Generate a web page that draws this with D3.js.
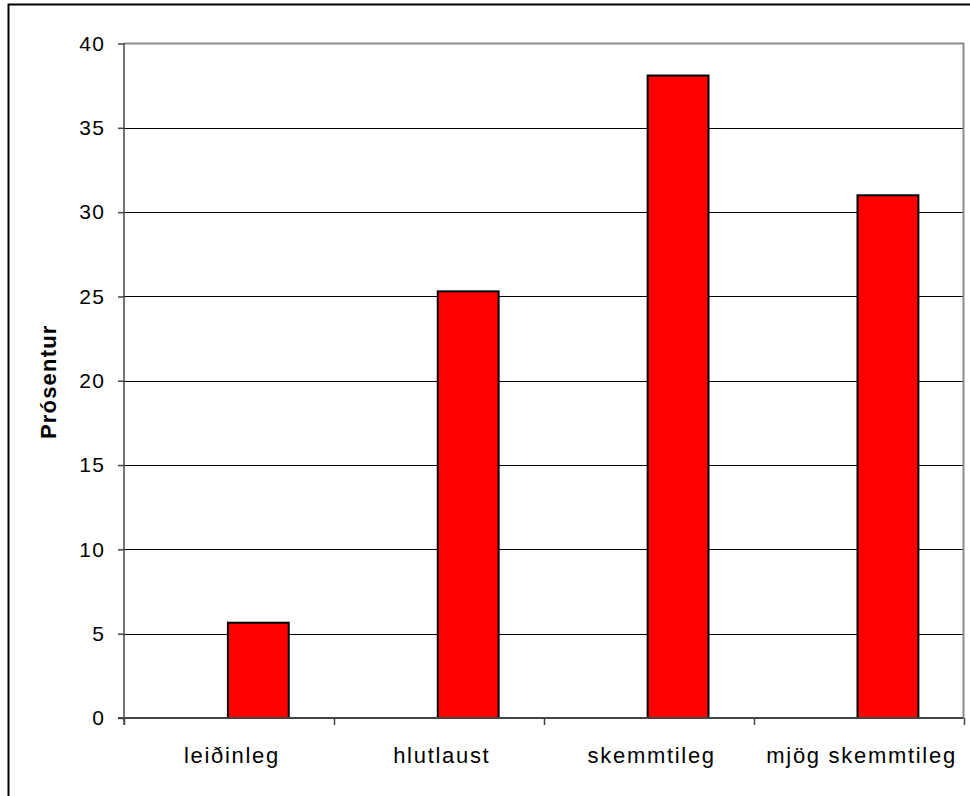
<!DOCTYPE html>
<html>
<head>
<meta charset="utf-8">
<script src="https://cdn.jsdelivr.net/npm/d3@7"></script>
<style>
  html, body { margin: 0; padding: 0; background: #fff; }
  svg { display: block; }
  text { font-family: "Liberation Sans", Arial, sans-serif; fill: #000; }
</style>
</head>
<body>
<svg id="chart" width="970" height="796"></svg>
<script>
// Chart data
const categories = ["leiðinleg", "hlutlaust", "skemmtileg", "mjög skemmtileg"];
const values = [5.65, 25.3, 38.1, 31.0];
const yTicks = [0, 5, 10, 15, 20, 25, 30, 35, 40];
const yLabel = "Prósentur";

const svg = d3.select("#chart");

// Outer frame (runs off the right and bottom edges)
svg.append("rect")
  .attr("x", 8.5).attr("y", 4.5)
  .attr("width", 980).attr("height", 800)
  .attr("fill", "#fff").attr("stroke", "#000").attr("stroke-width", 2);

const plot = { left: 124, right: 963.5, top: 43.5, bottom: 718 };

const x = d3.scaleBand()
  .domain(categories)
  .range([plot.left, plot.right])
  .paddingInner(0).paddingOuter(0);

const y = d3.scaleLinear()
  .domain([0, 40])
  .range([plot.bottom, plot.top]);

// Horizontal gridlines
svg.append("g")
  .selectAll("line")
  .data(yTicks.filter(t => t > 0 && t < 40))
  .join("line")
  .attr("x1", plot.left).attr("x2", plot.right)
  .attr("y1", d => Math.round(y(d)) + 0.5).attr("y2", d => Math.round(y(d)) + 0.5)
  .attr("stroke", "#000").attr("stroke-width", 1);

// Plot area top and right border
svg.append("path")
  .attr("d", `M${plot.left},${plot.top}H${plot.right}V${plot.bottom}`)
  .attr("fill", "none").attr("stroke", "#8c8c8c").attr("stroke-width", 2);

// Bars sit in the right half of each category band
const bw = x.bandwidth();
const barW = bw * 0.29;
svg.append("g")
  .selectAll("rect")
  .data(values)
  .join("rect")
  .attr("x", (d, i) => x(categories[i]) + bw * 0.495)
  .attr("y", d => y(d))
  .attr("width", barW)
  .attr("height", d => y(0) - y(d))
  .attr("fill", "#ff0000")
  .attr("stroke", "#000").attr("stroke-width", 2);

// Y axis
const yAxis = d3.axisLeft(y).tickValues(yTicks).tickSize(6).tickPadding(12.5).tickFormat(d3.format("d"));
const gy = svg.append("g").attr("transform", `translate(${plot.left},0)`).call(yAxis);
gy.attr("font-size", 21).attr("font-family", "Liberation Sans, Arial, sans-serif");
gy.select(".domain").attr("stroke", "#444").attr("stroke-width", 1.5).attr("d", `M0,${plot.top}V${plot.bottom + 7}`);
gy.selectAll(".tick line").attr("stroke", "#444").attr("stroke-width", 1.5);
gy.selectAll(".tick text").attr("fill", "#000").attr("letter-spacing", 1.5);

// X axis baseline with ticks at category boundaries
const gx = svg.append("g");
gx.append("line")
  .attr("x1", plot.left - 6).attr("x2", plot.right)
  .attr("y1", plot.bottom).attr("y2", plot.bottom)
  .attr("stroke", "#444").attr("stroke-width", 2);
const bounds = categories.map(c => x(c)).concat([plot.right]);
gx.selectAll("line.tk")
  .data(bounds)
  .join("line").attr("class", "tk")
  .attr("x1", d => Math.round(d) + 0.5).attr("x2", d => Math.round(d) + 0.5)
  .attr("y1", plot.bottom).attr("y2", plot.bottom + 7)
  .attr("stroke", "#444").attr("stroke-width", 1.5);
gx.selectAll("text")
  .data(categories)
  .join("text")
  .attr("x", d => x(d) + bw / 2 + 3)
  .attr("y", 763)
  .attr("text-anchor", "middle")
  .attr("font-size", 22)
  .attr("letter-spacing", 1.7)
  .text(d => d);

// Y axis title
svg.append("text")
  .attr("transform", `translate(56,${(plot.top + plot.bottom) / 2 + 1}) rotate(-90)`)
  .attr("text-anchor", "middle")
  .attr("font-size", 22)
  .attr("font-weight", "bold")
  .attr("letter-spacing", 1.2)
  .text(yLabel);
</script>
</body>
</html>
